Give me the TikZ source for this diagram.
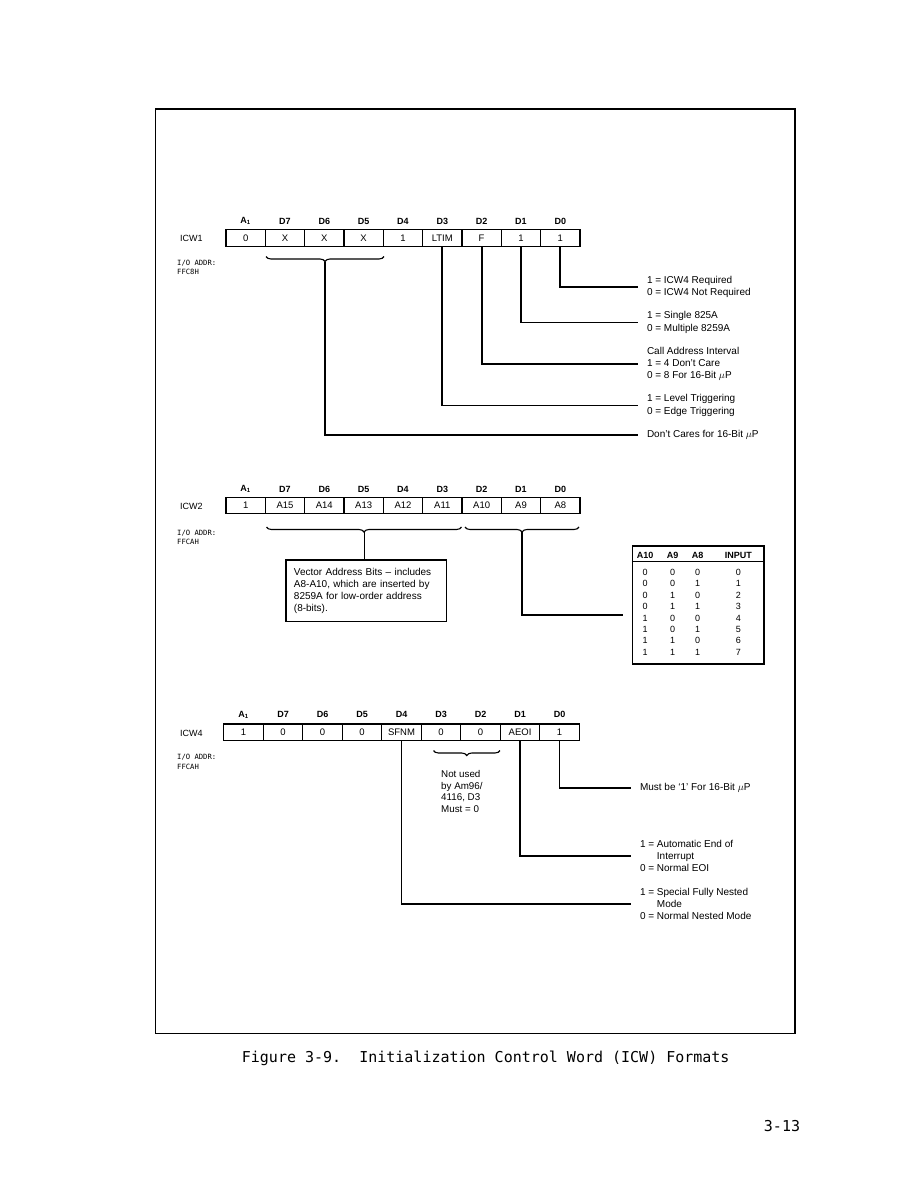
\documentclass[tikz,border=0pt]{standalone}
\usepackage{fontspec}
\setmainfont{Liberation Sans}
\newfontfamily\capfont{DejaVu Sans Mono}
\newfontfamily\addrfont{DejaVu Sans Mono}
\usetikzlibrary{decorations.pathreplacing}
\newcommand\Aone{A\textsubscript{1}}
\begin{document}
\begin{tikzpicture}[x=1pt,y=-1pt,
  cell/.style={draw, line width=1.2pt, minimum width=39.33pt, minimum height=16.5pt, inner sep=0pt, font=\fontsize{9.5}{11}\selectfont},
  hdr/.style={font=\fontsize{9}{10}\selectfont\bfseries, inner sep=0pt},
  reglab/.style={font=\fontsize{9}{10}\selectfont, anchor=west, inner sep=0pt},
  addr/.style={font=\addrfont\fontsize{7.2}{9.6}\selectfont, anchor=west, inner sep=0pt, align=left},
  conn/.style={line width=1.8pt},
  desc/.style={font=\fontsize{10}{12.2}\selectfont, align=left, anchor=west, inner sep=0pt, outer xsep=9pt},
  descb/.style={desc, font=\fontsize{10}{11.9}\selectfont},
  brc/.style={decorate, decoration={brace, mirror, amplitude=5pt}, line width=1.1pt},
  tblh/.style={font=\fontsize{9}{10}\selectfont\bfseries, inner sep=0pt},
  tbld/.style={font=\fontsize{9}{10}\selectfont, inner sep=0pt},
  capt/.style={font=\capfont\fontsize{15}{18}\selectfont, inner sep=0pt},
]
\useasboundingbox (0,0) rectangle (923,1191);
% frame
\draw[line width=1.2pt] (155.7,109) rectangle (795,1033.3);

% ---------------- ICW1 ----------------
\foreach \t [count=\i from 0] in {0,X,X,X,1,LTIM,F,1,1}
  \node[cell] (ra\i) at ({226+39.33*(\i+0.5)},238) {\t};
\foreach \h [count=\i from 0] in {\Aone,D7,D6,D5,D4,D3,D2,D1,D0}
  \node[hdr] (ha\i) at ({226+39.33*(\i+0.5)},221) {\h};
\node[reglab] (icw1) at (180,238) {ICW1};
\node[addr] (addr1) at (177,267.5) {I/O ADDR:\\FFC8H};
\coordinate (b1l) at (266,256.5);
\coordinate (b1r) at (384,256.5);
\draw[brc] (b1l) -- (b1r);
\coordinate (b1t) at (325,262);
\node[desc] (da0) at (638,287) {1 = ICW4 Required\\0 = ICW4 Not Required};
\node[desc] (da1) at (638,322.5) {1 = Single 825A\\0 = Multiple 8259A};
\node[desc] (da2) at (638,364) {Call Address Interval\\1 = 4 Don't Care\\0 = 8 For 16-Bit $\mu$P};
\node[desc] (da3) at (638,405.5) {1 = Level Triggering\\0 = Edge Triggering};
\node[desc] (da4) at (638,435) {Don't Cares for 16-Bit $\mu$P};
\draw[conn] (ra8.south) |- (da0.west);
\draw[conn] (ra7.south) |- (da1.west);
\draw[conn] (ra6.south) |- (da2.west);
\draw[conn] (ra5.south) |- (da3.west);
\draw[conn] (b1t) |- (da4.west);

% ---------------- ICW2 ----------------
\foreach \t [count=\i from 0] in {1,A15,A14,A13,A12,A11,A10,A9,A8}
  \node[cell] (rb\i) at ({226+39.33*(\i+0.5)},505.5) {\t};
\foreach \h [count=\i from 0] in {\Aone,D7,D6,D5,D4,D3,D2,D1,D0}
  \node[hdr] (hb\i) at ({226+39.33*(\i+0.5)},489) {\h};
\node[reglab] (icw2) at (180,506) {ICW2};
\node[addr] (addr2) at (177,537.5) {I/O ADDR:\\FFCAH};
\draw[brc] (266.5,527) -- (461.5,527);
\draw[brc] (465,527) -- (579,527);
\coordinate (b2t) at (364.5,532);
\coordinate (b3t) at (522,532);
\node[draw, line width=1.6pt, minimum width=160.7pt, minimum height=61.7pt,
      text width=144.7pt, inner xsep=8pt, inner ysep=0pt, align=left,
      font=\fontsize{10}{12.2}\selectfont] (vbox) at (366.3,590.8)
  {Vector Address Bits -- includes\\A8-A10, which are inserted by\\8259A for low-order address\\(8-bits).};
\draw[conn] (b2t) -- (b2t |- vbox.north);
\coordinate (e2) at (623,615);
\draw[conn] (b3t) |- (e2);
% table
\node[draw, line width=1.1pt, minimum width=131.7pt, minimum height=118pt, inner sep=0pt] (tbl) at (698.15,605) {};
\coordinate (sep) at (0,561);
\draw[line width=0.9pt] (tbl.west |- sep) -- (tbl.east |- sep);
\node[tblh] (th1) at (645,555.5) {A10};
\node[tblh] (th2) at (672.7,555.5) {A9};
\node[tblh] (th3) at (697.7,555.5) {A8};
\node[tblh] (th4) at (738.3,555.5) {INPUT};
\foreach \a/\b/\c [count=\k from 0] in {0/0/0,0/0/1,0/1/0,0/1/1,1/0/0,1/0/1,1/1/0,1/1/1}{
  \node[tbld] (ta\k) at (645,{572.3+11.4*\k}) {\a};
  \node[tbld] (tb\k) at (672.7,{572.3+11.4*\k}) {\b};
  \node[tbld] (tc\k) at (697.7,{572.3+11.4*\k}) {\c};
  \node[tbld] (td\k) at (738.3,{572.3+11.4*\k}) {\k};
}

% ---------------- ICW4 ----------------
\foreach \t [count=\i from 0] in {1,0,0,0,SFNM,0,0,AEOI,1}
  \node[cell, minimum width=39.5pt, minimum height=16.7pt] (rc\i) at ({223.8+39.5*(\i+0.5)},732.3) {\t};
\foreach \h [count=\i from 0] in {\Aone,D7,D6,D5,D4,D3,D2,D1,D0}
  \node[hdr] (hc\i) at ({223.8+39.5*(\i+0.5)},714.5) {\h};
\node[reglab] (icw4) at (180,733) {ICW4};
\node[addr] (addr4) at (177,762) {I/O ADDR:\\FFCAH};
\draw[brc] (433.5,750.5) -- (500,750.5);
\node[font=\fontsize{9.8}{11.7}\selectfont, align=left, anchor=west, inner sep=0pt] (nu) at (441,791.5)
  {Not used\\by Am96/\\4116, D3\\Must = 0};
\node[descb] (dc0) at (631,787.7) {Must be `1' For 16-Bit $\mu$P};
\node[descb] (dc1) at (631,856) {1 = Automatic End of\\\phantom{1 = }Interrupt\\0 = Normal EOI};
\node[descb] (dc2) at (631,904) {1 = Special Fully Nested\\\phantom{1 = }Mode\\0 = Normal Nested Mode};
\draw[conn] (rc8.south) |- (dc0.west);
\draw[conn] (rc7.south) |- (dc1.west);
\draw[conn] (rc4.south) |- (dc2.west);

% caption and page number
\node[capt, anchor=west] (cap) at (241.7,1058) {Figure 3-9.\ \ Initialization Control Word (ICW) Formats};
\node[capt] (pg) at (782,1125.7) {3-13};
\end{tikzpicture}
\end{document}
